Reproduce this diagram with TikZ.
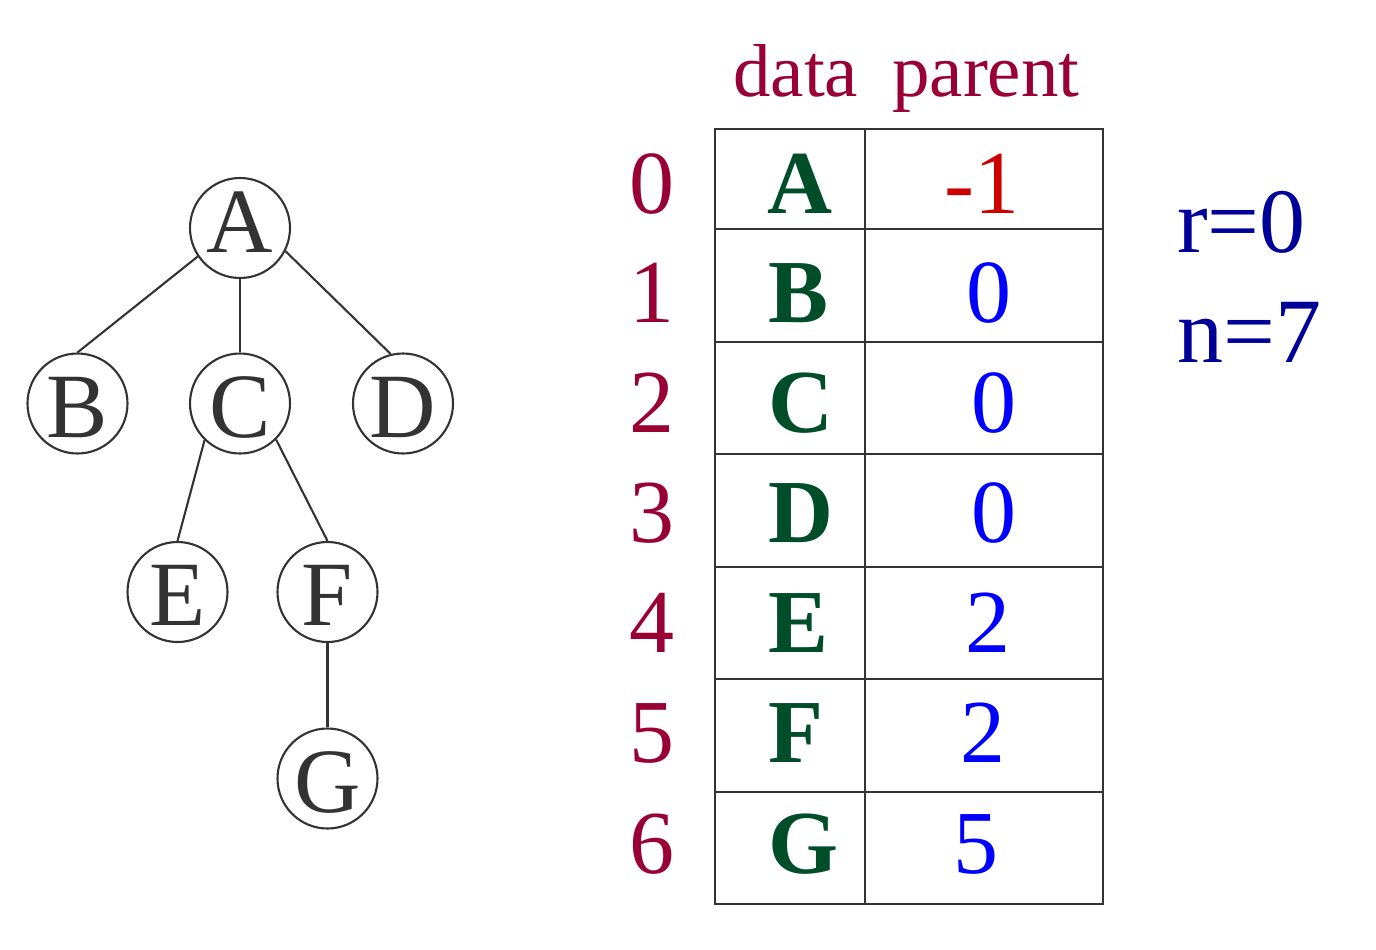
\documentclass[tikz,border=0pt]{standalone}
\usepackage{fontspec}
\setmainfont{Liberation Serif}
\definecolor{treegray}{HTML}{333333}
\definecolor{idxred}{HTML}{990033}
\definecolor{datagreen}{HTML}{004D2A}
\definecolor{rootred}{HTML}{CC0000}
\definecolor{parblue}{HTML}{0000FF}
\definecolor{infoblue}{HTML}{000099}
\begin{document}
\begin{tikzpicture}[x=1pt,y=-1pt,
  treenode/.style={circle,draw=treegray,line width=2.1pt,minimum size=100pt,inner sep=0pt,
    text=treegray,font=\fontsize{92}{92}\selectfont,text height=67pt,text depth=0pt},
  treeedge/.style={draw=treegray,line width=2.1pt},
  gridline/.style={draw=treegray,line width=2.4pt},
  idx/.style={anchor=base,inner sep=0pt,text=idxred,font=\fontsize{90}{90}\selectfont},
  head/.style={anchor=base west,inner sep=0pt,text=idxred,font=\fontsize{75}{75}\selectfont},
  datacell/.style={anchor=base west,inner sep=0pt,text=datagreen,font=\fontsize{90}{90}\selectfont\bfseries},
  parcell/.style={anchor=base,inner sep=0pt,text=parblue,font=\fontsize{90}{90}\selectfont},
  info/.style={anchor=base west,inner sep=0pt,text=infoblue,font=\fontsize{92}{92}\selectfont}]
\useasboundingbox (0,0) rectangle (1376,950);

% tree
\node[treenode,text height=48pt] (A) at (240,228) {A};
\node[treenode] (B) at (77.5,403.5) {B};
\node[treenode] (C) at (240,403.5) {C};
\node[treenode] (D) at (403,403.5) {D};
\node[treenode] (E) at (177.5,592) {E};
\node[treenode] (F) at (327.5,592) {F};
\node[treenode] (G) at (327.5,778.5) {G};
\draw[treeedge] (A.214) -- (B.north);
\draw[treeedge] (A.south) -- (C.north);
\draw[treeedge] (A.-27) -- (D.104);
\draw[treeedge] (C.226) -- (E.north);
\draw[treeedge] (C.-45) -- (F.north);
\draw[treeedge] (F.south) -- (G.north);

% table grid
\draw[gridline] (715,129) rectangle (1103,904);
\draw[gridline] (865,129) -- (865,904);
\foreach \yy in {229,342,454,567,679,792}
  \draw[gridline] (715,\yy) -- (1103,\yy);

% column headers
\node[head] (hdata) at (733,96) {data};
\node[head] (hparent) at (892,96) {parent};

% rows
\node[idx] (i0) at (652,213) {0};
\node[idx] (i1) at (652,322) {1};
\node[idx] (i2) at (652,432) {2};
\node[idx] (i3) at (652,542) {3};
\node[idx] (i4) at (652,652) {4};
\node[idx] (i5) at (652,762) {5};
\node[idx] (i6) at (652,873) {6};

\node[datacell] (d0) at (767,213) {A};
\node[datacell] (d1) at (768,322) {B};
\node[datacell] (d2) at (768,432) {C};
\node[datacell] (d3) at (768,542) {D};
\node[datacell] (d4) at (768,652) {E};
\node[datacell] (d5) at (768,762) {F};
\node[datacell] (d6) at (768,873) {G};

\node[parcell,text=rootred] (p0) at (982,213) {-1};
\node[parcell] (p1) at (989,322) {0};
\node[parcell] (p2) at (994,432) {0};
\node[parcell] (p3) at (994,542) {0};
\node[parcell] (p4) at (988,652) {2};
\node[parcell] (p5) at (983,762) {2};
\node[parcell] (p6) at (976,873) {5};

% root index and node count
\node[info] (root) at (1177,252) {r=0};
\node[info] (count) at (1177,362) {n=7};
\end{tikzpicture}
\end{document}
